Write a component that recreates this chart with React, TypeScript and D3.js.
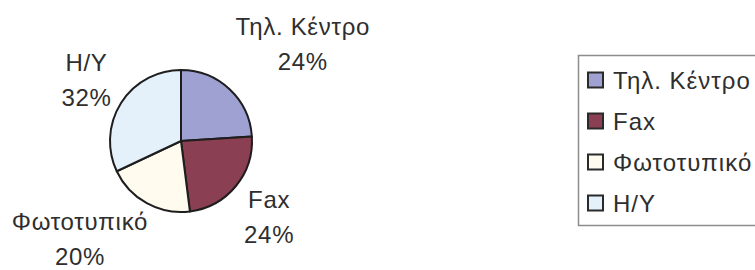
import React, { useEffect, useRef } from "react";
import * as d3 from "d3";

// chart data
const categories = ["Τηλ. Κέντρο", "Fax", "Φωτοτυπικό", "Η/Υ"];
const legendLabels = ["Τηλ. Κέντρο", "Fax", "Φωτοτυπικό", "H/Y"];
const values = [24, 24, 20, 32];
const colors = ["#9fa1d2", "#8a3f52", "#fffcef", "#e4f1fb"];

const W = 755;
const H = 270;

const App = () => {
  const svgRef = useRef<SVGSVGElement>(null);

  useEffect(() => {
    const svg = d3.select(svgRef.current);
    svg.selectAll("*").remove();

    const cx = 181;
    const cy = 141;
    const radius = 71;
    const font = "'Liberation Sans', Arial, sans-serif";
    const fontSize = 24;
    const lineGap = 35;
    // small hand nudges for the outside labels (dx, dy), like Excel's best fit
    const nudge = [[-5, -11], [-4, 1], [9, -5], [4, 2]];

    svg.append("rect").attr("width", W).attr("height", H).attr("fill", "#ffffff");

    const data = categories.map((name, i) => ({ name, value: values[i], color: colors[i] }));

    // pie generator, starts at 12 o'clock, clockwise, no sorting
    const pie = d3.pie<any>().sort(null).value(d => d.value);
    const arc = d3.arc<any>().innerRadius(0).outerRadius(radius);
    const labelArc = d3.arc<any>().innerRadius(radius + 16).outerRadius(radius + 16);

    const g = svg.append("g").attr("transform", `translate(${cx},${cy})`);
    const arcs = pie(data);

    g.selectAll("path")
      .data(arcs)
      .join("path")
      .attr("d", arc)
      .attr("fill", d => d.data.color)
      .attr("stroke", "#1e1e1e")
      .attr("stroke-width", 2)
      .attr("stroke-linejoin", "round");

    // data labels outside the pie: name on top, percentage below
    arcs.forEach((d, i) => {
      const mid = (d.startAngle + d.endAngle) / 2;
      const [px, py] = labelArc.centroid(d);
      const lg = g.append("g");
      const t = lg.append("text")
        .attr("text-anchor", "middle")
        .attr("font-family", font)
        .attr("font-size", fontSize)
        .attr("letter-spacing", 0.7)
        .attr("fill", "#2e2e2e");
      t.append("tspan").attr("x", 0).attr("y", 0).text(d.data.name);
      t.append("tspan").attr("x", 0).attr("y", lineGap).text(`${d.data.value}%`);
      const bb = (lg.node() as SVGGElement).getBBox();
      const sx = Math.sin(mid) >= 0 ? 1 : -1;
      const tx = px + sx * bb.width / 2 - (bb.x + bb.width / 2) + nudge[i][0];
      const ty = py - Math.cos(mid) * bb.height / 2 - (bb.y + bb.height / 2) + nudge[i][1];
      lg.attr("transform", `translate(${tx},${ty})`);
    });

    // legend
    const legendX = 578;
    const legendY = 55;
    const legendH = 170;
    const rowStep = 41;
    svg.append("rect")
      .attr("x", legendX + 0.5)
      .attr("y", legendY + 0.5)
      .attr("width", 200)
      .attr("height", legendH)
      .attr("fill", "#ffffff")
      .attr("stroke", "#8c8c8c")
      .attr("stroke-width", 1.5);

    const rows = svg.selectAll("g.legend-row")
      .data(legendLabels)
      .join("g")
      .attr("class", "legend-row")
      .attr("transform", (_, i) => `translate(${legendX + 10},${legendY + 25 + i * rowStep})`);

    rows.append("rect")
      .attr("x", 0)
      .attr("y", -7.5)
      .attr("width", 15)
      .attr("height", 15)
      .attr("fill", (_, i) => colors[i])
      .attr("stroke", "#2a2a2a")
      .attr("stroke-width", 2);

    rows.append("text")
      .attr("x", 25)
      .attr("y", 9)
      .attr("font-family", font)
      .attr("font-size", fontSize)
      .attr("letter-spacing", 1)
      .attr("fill", "#2e2e2e")
      .text(d => d);
  }, []);

  return (
    <svg
      ref={svgRef}
      width={W}
      height={H}
      style={{ position: "absolute", left: 0, top: 0, display: "block" }}
    />
  );
};

export default App;
